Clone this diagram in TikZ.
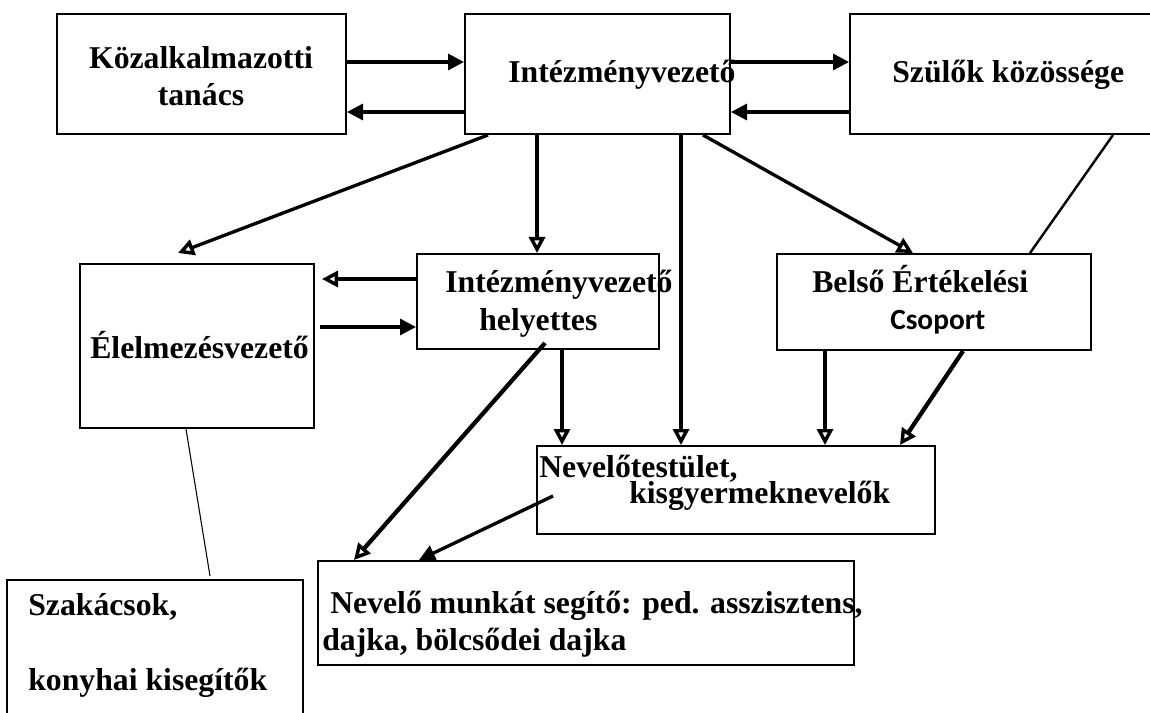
\documentclass[tikz,border=0pt]{standalone}
\usepackage{fontspec}
\setmainfont{Liberation Serif}
\newfontfamily\csopfont{Carlito}
\usetikzlibrary{arrows.meta,fit}

\tikzset{
  box/.style={draw, line width=1.5pt, inner sep=0pt},
  lbl/.style={anchor=base west, inner sep=0pt, font=\fontsize{23.8}{28}\selectfont\bfseries},
  arrf/.style={line width=2.5pt, -{Triangle[length=12pt,width=12pt]}},
  arrh/.style={line width=2.5pt, -{Triangle[open,length=12pt,width=12pt,line width=2.6pt]}},
  plainln/.style={line width=1.8pt},
  thinln/.style={line width=0.8pt},
}

\begin{document}
\begin{tikzpicture}[x=0.75pt,y=-0.75pt]
        \path[use as bounding box, fill=white] (0,0) rectangle (1150,713);

        % dobozok
        \node[box, fit={(57,14) (346,134)}] (koz) {};
        \node[box, fit={(465,14) (730,134)}] (int) {};
        \node[box, fit={(850,14) (1153,134)}] (szul) {};
        \node[box, fit={(80,264) (314,428)}] (elel) {};
        \node[box, fit={(417,254) (659,349)}] (hely) {};
        \node[box, fit={(777,254) (1091,350)}] (belso) {};
        \node[box, fit={(537,446) (935,534)}] (nev) {};
        \node[box, fit={(318,561) (854,665)}] (seg) {};
        \node[box, fit={(7,580) (303,722)}] (szak) {};

        % feliratok
        \node[lbl, anchor=base] (koz-a) at (201,69) {Közalkalmazotti};
        \node[lbl, anchor=base] (koz-b) at (201,106) {tanács};
        \node[lbl] (int-a) at (508,83) {Intézményvezető};
        \node[lbl] (szul-a) at (892,83) {Szülők közössége};
        \node[lbl] (elel-a) at (90,358) {Élelmezésvezető};
        \node[lbl] (hely-a) at (445,292) {Intézményvezető};
        \node[lbl] (hely-b) at (479,330) {helyettes};
        \node[lbl] (belso-a) at (812,292) {Belső Értékelési};
        \node[lbl, font=\csopfont\fontsize{22}{26}\selectfont\bfseries] (belso-b) at (890,329) {Csoport};
        \node[lbl] (nev-a) at (539,477) {Nevelőtestület,};
        \node[lbl] (nev-b) at (629,503) {kisgyermeknevelők};
        \node[lbl] (seg-a) at (330,613) {Nevelő munkát segítő: ped. asszisztens,};
        \node[lbl] (seg-b) at (322,650) {dajka, bölcsődei dajka};
        \node[lbl] (szak-a) at (28,615) {Szakácsok,};
        \node[lbl] (szak-b) at (28,690) {konyhai kisegítők};

        % felso sor
        \draw[arrf] (koz.east |- 0,62) -- (int.west |- 0,62);
        \draw[arrf] (int.west |- 0,112) -- (koz.east |- 0,112);
        \draw[arrf] (int.east |- 0,62) -- (szul.west |- 0,62);
        \draw[arrf] (szul.west |- 0,112) -- (int.east |- 0,112);

        % intezmenyvezetotol lefele
        \coordinate (elel-in) at (178,253);
        \draw[arrh] (int.south -| 488,0) -- (elel-in);
        \draw[arrh] (int.south -| 537,0) -- (hely.north -| 537,0);
        \draw[arrh] (int.south -| 681,0) -- (nev.north -| 681,0);
        \draw[arrh] (int.south -| 703,0) -- (belso.north -| 913,0);
        \draw[plainln] (szul.south -| 1113,0) -- (belso.north -| 1030,0);

        % helyettes es elelmezes
        \coordinate (elel-e1) at (322,279);
        \coordinate (elel-e2) at (320,327);
        \draw[arrh] (hely.west |- 0,279) -- (elel-e1);
        \draw[arrf] (elel-e2) -- (hely.west |- 0,327);

        % also resz
        \coordinate (hely-o) at (545,343);
        \coordinate (seg-in) at (354,560);
        \draw[arrh, line width=3.2pt] (hely-o) -- (seg-in);
        \draw[arrh] (hely.south -| 562,0) -- (nev.north -| 562,0);
        \draw[arrh] (belso.south -| 825,0) -- (nev.north -| 825,0);
        \draw[arrh, line width=3.2pt] (belso.south -| 963,0) -- (nev.north -| 900,0);
        \coordinate (nev-o) at (553,496);
        \draw[arrf] (nev-o) -- (seg.north -| 419,0);
        \coordinate (szak-in) at (210,576);
        \draw[thinln] (elel.south -| 186,0) -- (szak-in);
\end{tikzpicture}
\end{document}
